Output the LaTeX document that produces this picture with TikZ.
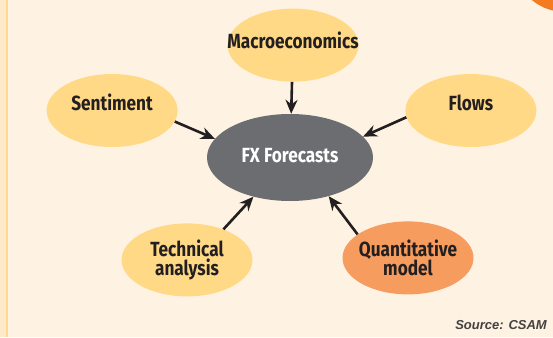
\documentclass[tikz,border=0pt]{standalone}
\usepackage{fontspec}
\setmainfont{Liberation Sans}
\newfontfamily\labelfont[FakeStretch=0.84]{Fira Sans}
\usetikzlibrary{shapes.geometric,positioning,arrows.meta}
\definecolor{cream}{HTML}{FEF3E2}
\definecolor{strip}{HTML}{FDEACB}
\definecolor{rule}{HTML}{FCDA92}
\definecolor{petal}{HTML}{FFD986}
\definecolor{peach}{HTML}{F69C5E}
\definecolor{slate}{HTML}{6C6D70}
\definecolor{flame}{HTML}{F47B20}
\definecolor{ink}{HTML}{231F20}

\begin{document}
\begin{tikzpicture}[x=1pt,y=-1pt,
  every node/.style={align=center,inner sep=0pt},%
  el/.style={ellipse,minimum width=131pt,minimum height=73pt,inner xsep=-25pt,%
    font=\labelfont\bfseries\fontsize{20.5}{19.5}\selectfont,text=ink},%
  ye/.style={fill=petal},%
  o/.style={fill=peach},%
  g/.style={fill=slate,text=white,minimum width=166pt,minimum height=87pt},%
  e/.style={-{Stealth[length=14pt,width=12pt]},line width=2.6pt,draw=ink},%
  ]

  % page and margin strip
  \useasboundingbox (0,0) rectangle (553,337);
  \fill [cream] (0,0) rectangle (553,337);
  \fill [strip] (0,0) rectangle (6,337);
  \fill [rule] (6,0) rectangle (8,337);
  \begin{scope}
    \clip (0,0) rectangle (553,337);
    \fill [flame] (565,-40) circle (52);
  \end{scope}

  \node (fx) [el,g,text height=12pt,text depth=2pt] at (290,157.5) {FX Forecasts};

  \node (macro) [el,ye,above=32pt of fx,xshift=3pt,
  text height=10pt,text depth=4pt] {Macroeconomics};
  \node (sent) [el,ye,left=29pt of fx,yshift=47pt,
  text height=8pt,text depth=8pt] {Sentiment};
  \node (flows) [el,ye,right=32pt of fx,yshift=47pt,
  text height=8pt,text depth=8pt] {Flows};
  \node (tech) [el,ye,below=22pt of fx,xshift=-103pt] {Technical\\analysis};
  \node (quant) [el,o,below=20pt of fx,xshift=118pt] {Quantitative\\model};

  \node (src) [anchor=base east,font=\bfseries\itshape\fontsize{13}{13}\selectfont,
  text=ink!85] at (547,329) {Source: CSAM};

  \draw [e] (macro) -- (fx);
  \draw [e] (sent.-10) -- (fx.166);
  \draw [e] (flows.186) -- (fx.16);
  \draw [e] (tech.40) -- (fx.227);
  \draw [e] (quant.155) -- (fx.-45);
\end{tikzpicture}
\end{document}
